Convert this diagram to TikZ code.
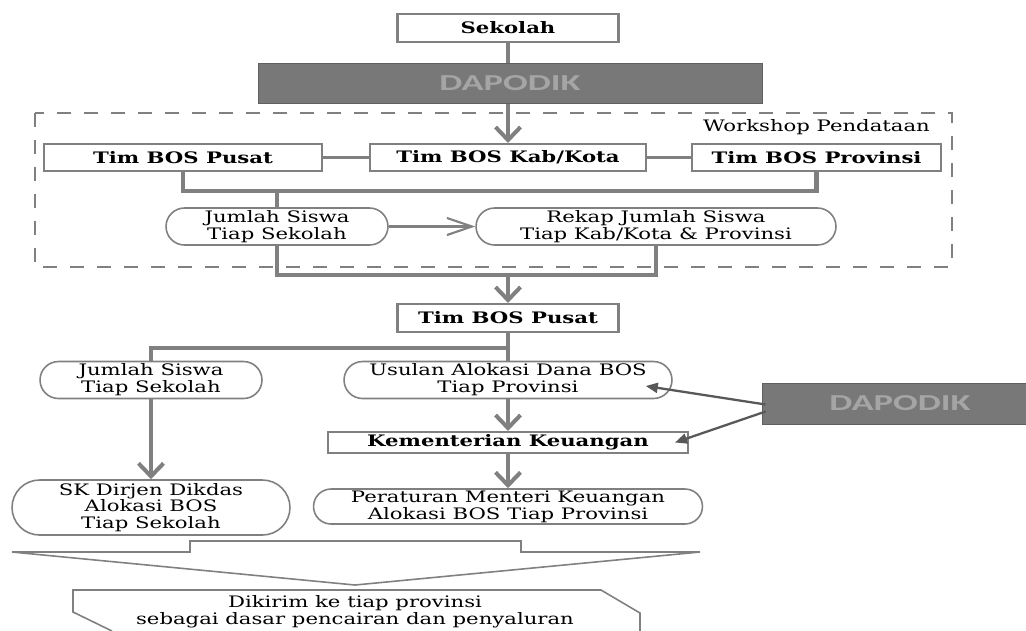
\documentclass[tikz,border=0pt]{standalone}
\usepackage{fontspec}
\setmainfont{DejaVu Serif}[FakeStretch=1.34]
\newfontfamily\dapofont{Carlito}[FakeStretch=1.6]
\usetikzlibrary{arrows.meta}
\usetikzlibrary{calc}
\definecolor{linegray}{RGB}{128,128,128}
\definecolor{barfill}{RGB}{120,120,120}
\definecolor{bartext}{RGB}{165,165,165}
\definecolor{feedgray}{RGB}{88,88,88}
\newcommand{\chartfont}{\fontsize{9}{9.6}\selectfont}
\tikzstyle{box}=[
  draw=linegray,
  line width=1.2pt,
  fill=white,
  inner sep=0pt,
  minimum height=0.54cm,
  font=\chartfont\bfseries
]
\tikzstyle{pill}=[
  draw=linegray,
  line width=0.9pt,
  fill=white,
  inner sep=0pt,
  align=center,
  minimum height=0.74cm,
  rounded corners=0.37cm,
  font=\chartfont
]
\tikzstyle{bar}=[
  fill=barfill,
  draw=barfill!80!black,
  line width=0.5pt,
  inner sep=0pt,
  minimum height=0.8cm,
  text=bartext,
  font=\dapofont\fontsize{13}{13}\selectfont\bfseries
]
\tikzstyle{flow}=[
  -{Straight Barb[length=0.26cm, width=0.5cm]},
  draw=linegray,
  line width=2.3pt
]
\tikzstyle{link}=[
  draw=linegray,
  line width=2.3pt
]
\tikzstyle{thinlink}=[
  draw=linegray,
  line width=1.2pt
]
\tikzstyle{feed}=[
  -{Triangle[length=0.24cm, width=0.2cm]},
  draw=feedgray,
  line width=1.3pt
]
\tikzstyle{outline}=[
  draw=linegray,
  line width=0.9pt
]
\begin{document}
\begin{tikzpicture}[x=0.02cm, y=-0.02cm]
  \useasboundingbox (0,0) rectangle (1026,630);
  \clip (0,0) rectangle (1026,630);

  \draw[linegray, line width=1.4pt, dash pattern=on 0.28cm off 0.26cm] (35,113) rectangle (952,267);
  \node[anchor=east, font=\chartfont] (wslabel) at (936,127) {Workshop Pendataan};

  \node[box, minimum width=4.42cm, minimum height=0.56cm] (sekolah) at (508,28)    {Sekolah};
  \node[box, minimum width=5.56cm] (pusatA)   at (183,157.5) {Tim BOS Pusat};
  \node[box, minimum width=5.52cm] (kabkota)  at (508,157.5) {Tim BOS Kab/Kota};
  \node[box, minimum width=4.98cm] (provinsi) at (816.5,157.5) {Tim BOS Provinsi};
  \node[pill, minimum width=4.44cm] (jumlahA) at (277,226.5) {Jumlah Siswa\\Tiap Sekolah};
  \node[pill, minimum width=7.2cm]  (rekap)   at (656,226.5) {Rekap Jumlah Siswa\\Tiap Kab/Kota \& Provinsi};

  \node[box, minimum width=4.42cm, minimum height=0.56cm] (pusatB) at (508,318) {Tim BOS Pusat};
  \node[pill, minimum width=4.44cm] (jumlahB) at (151,380) {Jumlah Siswa\\Tiap Sekolah};
  \node[pill, minimum width=6.56cm] (usulan)  at (508,380) {Usulan Alokasi Dana BOS\\Tiap Provinsi};
  \node[box, minimum width=7.2cm, minimum height=0.42cm] (kemenkeu) at (508,442.5) {Kementerian Keuangan};
  \node[pill, minimum width=5.56cm, minimum height=1.1cm, rounded corners=0.55cm] (skdirjen) at (151,507.5) {SK Dirjen Dikdas\\Alokasi BOS\\Tiap Sekolah};
  \node[pill, minimum width=7.78cm, minimum height=0.7cm, rounded corners=0.35cm] (permen) at (508,506.5) {Peraturan Menteri Keuangan\\Alokasi BOS Tiap Provinsi};
  \node[font=\chartfont, align=center] (kirim) at (355,611.5) {Dikirim ke tiap provinsi\\sebagai dasar pencairan dan penyaluran};

  \draw[flow] (sekolah) -- (kabkota);
  \node[bar, minimum width=10.08cm] (dapoA) at (510,83) {DAPODIK};
  \node[bar, minimum width=5.52cm, minimum height=0.82cm] (dapoB) at (900,403.5) {DAPODIK};

  \draw[thinlink] (pusatA) -- (kabkota);
  \draw[thinlink] (kabkota) -- (provinsi);
  \draw[link] (pusatA.south) -- ++(0,19) -| (provinsi.south);
  \draw[link] (jumlahA.north) -- ++(0,-18.5);
  \draw[thinlink, -{Straight Barb[length=0.5cm, width=0.34cm]}] (jumlahA) -- (rekap);
  \draw[link] (jumlahA.south) -- ++(0,29) -| (rekap.south);
  \coordinate (gather) at (508,274);
  \draw[flow] (gather) -- (pusatB);

  \draw[link] (pusatB.south) -- ++(0,15) -| (jumlahB.north);
  \draw[link] (pusatB) -- (usulan);
  \draw[flow] (jumlahB) -- (skdirjen);
  \draw[flow] (usulan) -- (kemenkeu);
  \draw[flow] (kemenkeu) -- (permen);
  \draw[feed] ($(dapoB.west)+(4,1)$) -- ($(usulan.east)+(-27,6)$);
  \draw[feed] ($(dapoB.west)+(4,8)$) -- ($(kemenkeu.east)+(-14,0)$);

  \draw[outline] (12,552) -- (190,552) -- (190,541) -- (521,541) -- (521,552) -- (700,552) -- (355,585) -- cycle;
  \draw[outline] (112,631) -- (73,612) -- (73,590) -- (601,590) -- (640,613) -- (640,631);
\end{tikzpicture}
\end{document}
